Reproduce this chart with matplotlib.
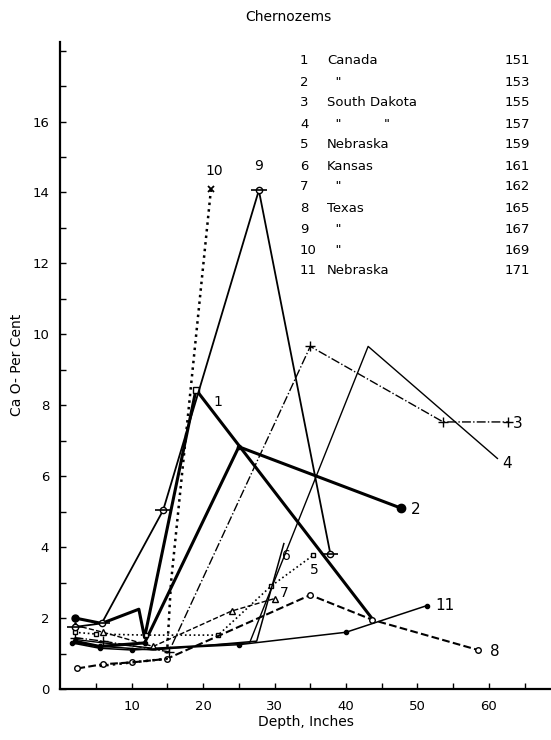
import matplotlib
matplotlib.use('Agg')
import matplotlib.pyplot as plt

# depth (inches) and CaO per cent
d1 = [2.1, 5.8, 11.0, 11.8, 19.0, 43.6]
c1 = [2.0, 1.85, 2.25, 1.45, 8.44, 2.0]
d2 = [2.0, 5.5, 11.8, 25.0, 47.7]
c2 = [1.35, 1.2, 1.3, 6.83, 5.1]
d3 = [2.0, 6.0, 15.2, 35.0, 53.6, 62.7]
c3 = [1.45, 1.35, 1.05, 9.66, 7.53, 7.53]
d4 = [2.0, 6.0, 13.0, 26.5, 43.1, 61.2]
c4 = [1.4, 1.3, 1.15, 1.3, 9.66, 6.5]
d5 = [2.0, 5.0, 12.0, 22.1, 29.5, 35.4]
c5 = [1.6, 1.55, 1.52, 1.52, 2.9, 3.77]
d6 = [2.0, 6.0, 13.0, 27.5, 31.3]
c6 = [1.3, 1.2, 1.1, 1.35, 4.1]
d7 = [2.0, 6.0, 13.0, 24.0, 30.0]
c7 = [1.8, 1.6, 1.2, 2.2, 2.55]
d8 = [2.4, 6.0, 10.0, 14.9, 35.0, 43.7, 58.5]
c8 = [0.58, 0.7, 0.75, 0.85, 2.65, 1.95, 1.1]
d9 = [2.0, 5.8, 14.4, 27.8, 37.8]
c9 = [1.75, 1.85, 5.04, 14.06, 3.82]
d10 = [5.5, 10.0, 14.9, 15.5, 21.1]
c10 = [0.65, 0.75, 0.85, 3.0, 14.1]
d11 = [1.6, 5.5, 10.0, 25.0, 40.0, 51.3]
c11 = [1.3, 1.15, 1.1, 1.25, 1.6, 2.35]

nums = ["1", "2", "3", "4", "5", "6", "7", "8", "9", "10", "11"]
places = ["Canada", "  \"", "South Dakota", "  \"          \"", "Nebraska", "Kansas",
          "  \"", "Texas", "  \"", "  \"", "Nebraska"]
refs = ["151", "153", "155", "157", "159", "161", "162", "165", "167", "169", "171"]

plt.rcParams['font.family'] = ['DejaVu Sans']
fig = plt.figure(figsize=(5.51, 7.4), dpi=100)
ax = fig.add_axes([0.1094, 0.0689, 0.8906, 0.8747])

k = 'black'
ax.plot(d1, c1, '-', color=k, lw=2.2)
ax.plot(d1[0], c1[0], 'o', color=k, ms=5)
ax.plot(d1[4], c1[4], 's', mfc='white', mec=k, ms=4)
ax.plot(d2, c2, '-', color=k, lw=2.2, marker='o', ms=3)
ax.plot(d2[-1], c2[-1], 'o', color=k, ms=6)
ax.plot(d3, c3, '-.', color=k, lw=1.0, marker='+', ms=7)
ax.plot(d4, c4, '-', color=k, lw=1.0)
ax.plot(d5, c5, ':', color=k, lw=1.2, marker='s', mfc='white', ms=3.5)
ax.plot(d6, c6, '-', color=k, lw=1.1)
ax.plot(d7, c7, '--', color=k, lw=1.0, marker='^', mfc='white', ms=4)
ax.plot(d8, c8, '--', color=k, lw=1.5, marker='o', mfc='white', ms=4)
ax.plot(d9, c9, '-', color=k, lw=1.3, marker='o', mfc='white', ms=4.5)
ax.plot(d9, c9, ' ', color=k, marker='_', ms=11, mew=1.2)
ax.plot(d10, c10, ':', color=k, lw=1.8)
ax.plot(d10[-1], c10[-1], 'x', color=k, ms=4, mew=1.3)
ax.plot(d11, c11, '-', color=k, lw=1.1, marker='o', ms=3)

# curve numbers at ends / peaks
fs = 10
ax.text(21.5, 14.6, "10", fontsize=fs, ha='center', va='center')
ax.text(27.8, 14.75, "9", fontsize=fs, ha='center', va='center')
ax.text(22.0, 8.1, "1", fontsize=fs, ha='center', va='center')
ax.text(49.7, 5.05, "2", fontsize=fs + 1, ha='center', va='center')
ax.text(64.1, 7.5, "3", fontsize=fs + 1, ha='center', va='center')
ax.text(62.6, 6.35, "4", fontsize=fs + 1, ha='center', va='center')
ax.text(35.5, 3.35, "5", fontsize=fs, ha='center', va='center')
ax.text(31.7, 3.75, "6", fontsize=fs, ha='center', va='center')
ax.text(31.3, 2.7, "7", fontsize=fs, ha='center', va='center')
ax.text(60.8, 1.05, "8", fontsize=fs + 1, ha='center', va='center')
ax.text(53.8, 2.35, "11", fontsize=fs + 1, ha='center', va='center')

ax.set_xlim(0, 68.7)
ax.set_ylim(0, 18.25)
ax.spines['top'].set_visible(False)
ax.spines['right'].set_visible(False)
ax.spines['left'].set_linewidth(1.6)
ax.spines['bottom'].set_linewidth(1.6)

ax.set_xticks(range(5, 70, 5))
ax.set_xticklabels(['' if v % 10 else str(v) for v in range(5, 70, 5)])
ax.set_yticks(range(0, 19))
ax.set_yticklabels([str(v) if v % 2 == 0 and v <= 16 else '' for v in range(0, 19)])
ax.tick_params(axis='both', direction='in', length=4, width=1, labelsize=9.5)
ax.tick_params(axis='x', pad=8)
ax.tick_params(axis='y', pad=8)

ax.set_xlabel("Depth, Inches", fontsize=10, labelpad=1)
ax.set_ylabel("Ca O- Per Cent", fontsize=10, labelpad=6)

# legend block in the upper right
fig.text(288 / 551, 1 - 17 / 740, "Chernozems", fontsize=10, ha='center', va='center')
for i in range(len(nums)):
    yy = 1 - (61 + 21 * i) / 740
    fig.text(300 / 551, yy, nums[i], fontsize=9.5, va='center')
    fig.text(327 / 551, yy, places[i], fontsize=9.5, va='center')
    fig.text(505 / 551, yy, refs[i], fontsize=9.5, va='center')

fig.savefig("out.png", dpi=100)
